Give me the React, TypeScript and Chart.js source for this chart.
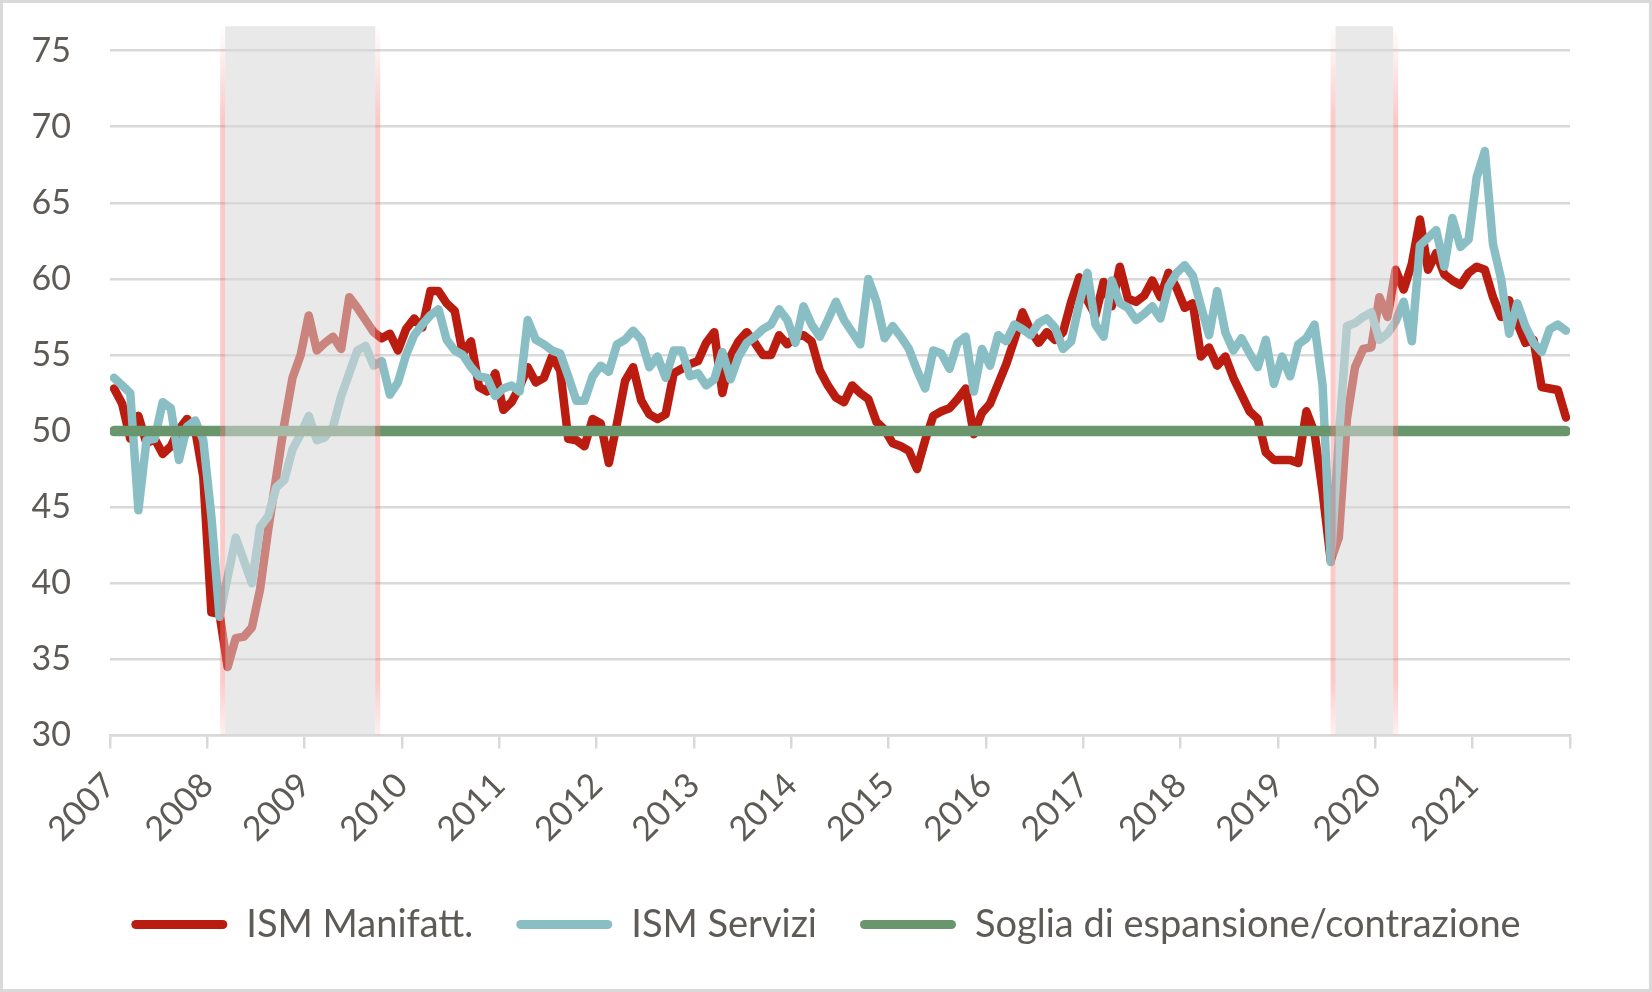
import { useEffect, useRef } from 'react';
import { Chart, registerables } from 'chart.js';

Chart.register(...registerables);

// Monthly readings, Jan 2007 - Dec 2021
const YEARS = ['2007', '2008', '2009', '2010', '2011', '2012', '2013', '2014', '2015', '2016', '2017', '2018', '2019', '2020', '2021'];

const ISM_MANIFATTURA = [
  52.8, 51.8, 49.5, 51.0, 49.2, 49.5, 48.5, 49.0, 50.1, 50.8, 50.1, 47.0,
  38.1, 38.0, 34.5, 36.4, 36.5, 37.1, 39.6, 43.5, 47.0, 50.5, 53.5, 55.0,
  57.6, 55.3, 55.8, 56.2, 55.4, 58.8, 58.1, 57.3, 56.5, 56.1, 56.4, 55.3,
  56.7, 57.4, 56.8, 59.2, 59.2, 58.4, 57.9, 55.1, 55.9, 52.9, 52.6, 53.8,
  51.4, 51.9, 52.9, 54.2, 53.2, 53.5, 54.9, 54.0, 49.5, 49.4, 49.0, 50.8,
  50.5, 47.9, 50.5, 53.3, 54.2, 52.0, 51.1, 50.8, 51.1, 53.8, 54.1, 54.4,
  54.6, 55.8, 56.5, 52.5, 54.9, 55.9, 56.5, 55.8, 55.0, 55.0, 56.3, 55.7,
  56.2, 56.3, 55.9, 54.0, 53.0, 52.2, 51.9, 53.0, 52.5, 52.1, 50.6, 50.1,
  49.2, 49.0, 48.7, 47.5, 49.4, 51.0, 51.3, 51.5, 52.1, 52.8, 49.8, 51.2,
  51.8, 53.1, 54.4, 56.0, 57.8, 56.6, 55.8, 56.5, 56.0, 56.5, 58.5, 60.1,
  58.6, 57.6, 59.8, 58.2, 60.8, 58.7, 58.5, 58.9, 59.9, 58.8, 60.4, 59.4,
  58.1, 58.4, 54.9, 55.5, 54.3, 54.9, 53.5, 52.4, 51.3, 50.8, 48.6, 48.1,
  48.1, 48.1, 47.9, 51.3, 49.9, 46.0, 41.5, 43.0, 50.8, 54.2, 55.4, 55.5,
  58.8, 57.5, 60.6, 59.3, 61.0, 63.9, 60.6, 61.7, 60.3, 59.9, 59.6, 60.4,
  60.8, 60.6, 58.8, 57.5, 58.6, 57.1, 55.8, 56.0, 52.9, 52.8, 52.7, 50.9,
];

const ISM_SERVIZI = [
  53.5, 53.0, 52.5, 44.8, 49.4, 49.5, 51.9, 51.5, 48.1, 50.3, 50.7, 49.4,
  44.4, 37.8, 40.4, 43.0, 41.5, 40.0, 43.7, 44.4, 46.3, 46.8, 48.8, 49.8,
  51.0, 49.4, 49.6, 50.3, 52.3, 53.8, 55.3, 55.6, 54.3, 54.6, 52.4, 53.2,
  55.0, 56.3, 57.0, 57.6, 58.0, 56.0, 55.3, 55.0, 54.2, 53.6, 53.5, 52.3,
  52.8, 53.0, 52.6, 57.3, 56.0, 55.7, 55.3, 55.1, 53.6, 52.0, 52.0, 53.6,
  54.3, 53.9, 55.7, 56.0, 56.6, 56.0, 54.2, 54.9, 53.5, 55.3, 55.3, 53.6,
  53.8, 53.0, 53.4, 55.2, 53.4, 54.9, 55.8, 56.2, 56.7, 57.0, 58.0, 57.3,
  55.8, 58.2, 57.0, 56.2, 57.3, 58.5, 57.3, 56.5, 55.7, 60.0, 58.5, 56.1,
  56.9, 56.2, 55.4, 54.0, 52.8, 55.3, 55.1, 54.1, 55.8, 56.2, 52.6, 55.4,
  54.3, 56.3, 55.9, 57.0, 56.7, 56.3, 57.1, 57.4, 56.8, 55.4, 55.9, 58.4,
  60.4, 57.0, 56.2, 59.9, 58.4, 58.1, 57.3, 57.7, 58.2, 57.4, 59.5, 60.4,
  60.9, 60.2, 58.2, 56.3, 59.2, 56.5, 55.3, 56.1, 55.1, 54.2, 56.0, 53.1,
  54.9, 53.6, 55.7, 56.1, 57.0, 53.0, 41.4, 49.5, 56.9, 57.1, 57.5, 57.8,
  56.0, 56.4, 57.2, 58.5, 55.9, 62.2, 62.7, 63.2, 60.8, 64.0, 62.1, 62.6,
  66.7, 68.4, 62.3, 60.0, 56.4, 58.4, 56.9, 55.8, 55.2, 56.7, 57.0, 56.6,
];

const SOGLIA = 50;

// recession periods, in months counted from Jan 2007
const RECESSIONI = [
  [13.7, 32.2],
  [150.6, 157.7],
];

const RED = '#BA1D10';
const TEAL = '#89BFC4';
const GREEN = '#6A966E';
const TEXT = '#5E5A56';
const GRID = '#D9D9D9';

const toPoints = (values: number[]) => values.map((y, i) => ({ x: i, y }));

const recessionShading = {
  id: 'recessionShading',
  afterDatasetsDraw(chart: Chart) {
    const { ctx, chartArea, scales } = chart;
    const x = scales.x;
    const top = scales.y.getPixelForValue(76.6);
    const bottom = chartArea.bottom;
    ctx.save();
    RECESSIONI.forEach(([from, to]) => {
      const x0 = x.getPixelForValue(from);
      const x1 = x.getPixelForValue(to);
      ctx.fillStyle = 'rgba(215, 215, 215, 0.55)';
      ctx.fillRect(x0, top, x1 - x0, bottom - top);

      const grad = ctx.createLinearGradient(0, top, 0, bottom);
      grad.addColorStop(0, 'rgba(248, 120, 120, 0)');
      grad.addColorStop(0.13, 'rgba(248, 120, 120, 0.4)');
      grad.addColorStop(0.92, 'rgba(248, 120, 120, 0.4)');
      grad.addColorStop(1, 'rgba(248, 120, 120, 0.1)');
      ctx.strokeStyle = grad;
      ctx.lineWidth = 5;
      [x0 - 2.5, x1 + 2.5].forEach((px) => {
        ctx.beginPath();
        ctx.moveTo(px, top);
        ctx.lineTo(px, bottom);
        ctx.stroke();
      });
    });
    ctx.restore();
  },
};

const IsmChart = () => {
  const canvasRef = useRef<HTMLCanvasElement | null>(null);
  const chartRef = useRef<Chart | null>(null);

  useEffect(() => {
    if (!canvasRef.current) return;
    if (chartRef.current) chartRef.current.destroy();

    const ctx = canvasRef.current.getContext('2d');
    if (!ctx) return;

    Chart.defaults.font.family = 'Lato, "Open Sans", sans-serif';
    Chart.defaults.color = TEXT;

    const lastMonth = ISM_MANIFATTURA.length - 1;

    chartRef.current = new Chart(ctx, {
      type: 'line',
      data: {
        datasets: [
          {
            label: 'ISM Manifatt.',
            data: toPoints(ISM_MANIFATTURA),
            borderColor: RED,
            backgroundColor: RED,
            borderWidth: 8.5,
            order: 3,
          },
          {
            label: 'ISM Servizi',
            data: toPoints(ISM_SERVIZI),
            borderColor: TEAL,
            backgroundColor: TEAL,
            borderWidth: 8.5,
            order: 2,
          },
          {
            label: 'Soglia di espansione/contrazione',
            data: [
              { x: 0, y: SOGLIA },
              { x: lastMonth, y: SOGLIA },
            ],
            borderColor: GREEN,
            backgroundColor: GREEN,
            borderWidth: 10.5,
            order: 1,
          },
        ],
      },
      options: {
        animation: false,
        responsive: true,
        maintainAspectRatio: false,
        layout: {
          padding: { top: 47.6, right: 0, bottom: 35.5, left: 0 },
        },
        elements: {
          point: { radius: 0, hoverRadius: 0 },
          line: { tension: 0, borderJoinStyle: 'round', borderCapStyle: 'round' },
        },
        scales: {
          x: {
            type: 'linear',
            min: -0.5,
            max: lastMonth + 0.5,
            afterBuildTicks: (scale: any) => {
              const ticks = YEARS.map((_, k) => ({ value: -0.5 + 12 * k }));
              ticks.push({ value: lastMonth + 0.5 });
              scale.ticks = ticks;
            },
            afterFit: (scale: any) => {
              scale.height = 127;
            },
            ticks: {
              autoSkip: false,
              minRotation: 45,
              maxRotation: 45,
              padding: 16.5,
              font: { size: 34 },
              callback: (_v: any, index: number) => YEARS[index] ?? '',
            },
            grid: {
              drawOnChartArea: false,
              drawTicks: true,
              tickLength: 13,
              color: GRID,
              lineWidth: 2.5,
            },
            border: { display: true, color: GRID, width: 2.5 },
          },
          y: {
            min: 30,
            max: 75,
            afterFit: (scale: any) => {
              scale.width = 107;
            },
            ticks: { stepSize: 5, padding: 0, font: { size: 34 } },
            grid: {
              color: GRID,
              lineWidth: 2.5,
              drawTicks: true,
              tickLength: 39,
              tickColor: 'rgba(0, 0, 0, 0)',
            },
            border: { display: false },
          },
          // empty right-hand margin, so the full-width legend stays centred
          margin: {
            position: 'right',
            afterFit: (scale: any) => {
              scale.width = 79;
            },
            ticks: { display: false },
            grid: { display: false },
            border: { display: false },
          },
        },
        plugins: {
          legend: {
            position: 'bottom',
            labels: {
              boxWidth: 96,
              boxHeight: 9,
              useBorderRadius: true,
              borderRadius: 4.5,
              padding: 43,
              color: TEXT,
              font: { size: 38 },
              sort: (a: any, b: any) => a.datasetIndex - b.datasetIndex,
              generateLabels: (chart: Chart) =>
                Chart.defaults.plugins.legend.labels
                  .generateLabels(chart)
                  .map((item: any) => ({ ...item, lineWidth: 0 })),
            },
          },
          tooltip: { enabled: false },
        },
      },
      plugins: [recessionShading],
    });

    return () => {
      if (chartRef.current) {
        chartRef.current.destroy();
        chartRef.current = null;
      }
    };
  }, []);

  return (
    <div
      style={{
        width: 1652,
        height: 992,
        boxSizing: 'border-box',
        border: `3px solid ${GRID}`,
        background: '#fff',
      }}
    >
      <div style={{ position: 'relative', width: 1646, height: 986 }}>
        <canvas ref={canvasRef} />
      </div>
    </div>
  );
};

export default function App() {
  useEffect(() => {
    document.body.style.margin = '0';
  }, []);
  return <IsmChart />;
}
